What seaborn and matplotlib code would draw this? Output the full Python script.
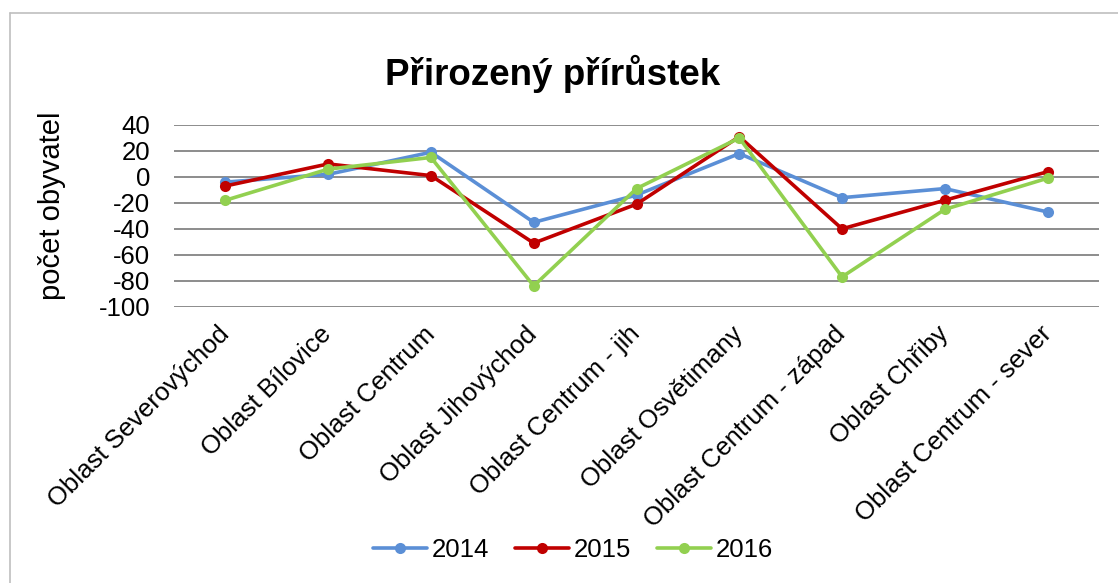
import pandas as pd
import seaborn as sns
import matplotlib.pyplot as plt
from matplotlib.lines import Line2D

# data
oblasti = ["Oblast Severovýchod", "Oblast Bílovice", "Oblast Centrum", "Oblast Jihovýchod",
           "Oblast Centrum - jih", "Oblast Osvětimany", "Oblast Centrum - západ",
           "Oblast Chřiby", "Oblast Centrum - sever"]
r2014 = [-4, 2, 19, -35, -14, 18, -16, -9, -27]
r2015 = [-7, 10, 1, -51, -21, 31, -40, -18, 4]
r2016 = [-18, 6, 15, -84, -9, 30, -77, -25, -1]
roky = ["2014", "2015", "2016"]
barvy = ["#5B8FD6", "#C00000", "#92D050"]

df = pd.DataFrame({"oblast": oblasti, "2014": r2014, "2015": r2015, "2016": r2016})
df = df.melt(id_vars="oblast", var_name="rok", value_name="hodnota")

sns.set_style("white")
plt.rcParams['font.family'] = ['Liberation Sans', 'DejaVu Sans']
plt.rcParams['axes.unicode_minus'] = False
plt.rcParams['text.color'] = 'black'
plt.rcParams['xtick.color'] = 'black'
plt.rcParams['ytick.color'] = 'black'

fig = plt.figure(figsize=(11.18, 5.83), dpi=100)
ax = fig.add_axes([174 / 1118, 1 - 306.7 / 583, (1099 - 174) / 1118, (306.7 - 125) / 583])

sns.lineplot(data=df, x="oblast", y="hodnota", hue="rok", hue_order=roky,
             palette=barvy, marker="o", markersize=8, markeredgewidth=0,
             linewidth=2.6, sort=False, legend=False, ax=ax)

ax.set_ylim(-100, 40)
ax.set_xlim(-0.5, len(oblasti) - 0.5)
ax.set_yticks(range(-100, 41, 20))
ax.yaxis.grid(True, color="#8C8C8C", linewidth=1.4)
ax.set_axisbelow(True)
for s in ax.spines.values():
    s.set_visible(False)
ax.tick_params(axis="y", length=0, labelsize=18.5, pad=17)
ax.tick_params(axis="x", length=0, labelsize=18.5, pad=17)
ax.set_xticks(range(len(oblasti)))
ax.set_xticklabels(oblasti, rotation=45, ha="right", va="center", rotation_mode="anchor")
ax.set_xlabel("")
ax.set_ylabel("")

fig.text(52 / 1118, 1 - 206 / 583, "počet obyvatel", rotation=90, fontsize=21,
         ha="center", va="center")
fig.text(553 / 1118, 1 - 74 / 583, "Přirozený přírůstek", fontsize=26.5,
         fontweight="bold", ha="center", va="center")

handles = [Line2D([], [], color=c, linewidth=2.6, marker="o", markersize=8,
                  markeredgewidth=0) for c in barvy]
fig.legend(handles, roky, loc="center", bbox_to_anchor=(573 / 1118, 1 - 550 / 583),
           ncol=3, frameon=False, fontsize=18.5, handlelength=2.1, handletextpad=0.2,
           columnspacing=1.0)

# chart area border (left and top edge visible in the crop)
fig.add_artist(Line2D([9.5 / 1118, 9.5 / 1118], [0, 1 - 13 / 583], color="#BFBFBF",
                      linewidth=1.2, transform=fig.transFigure))
fig.add_artist(Line2D([9.5 / 1118, 1], [1 - 13 / 583, 1 - 13 / 583], color="#BFBFBF",
                      linewidth=1.2, transform=fig.transFigure))

fig.savefig("out.png", dpi=100)
